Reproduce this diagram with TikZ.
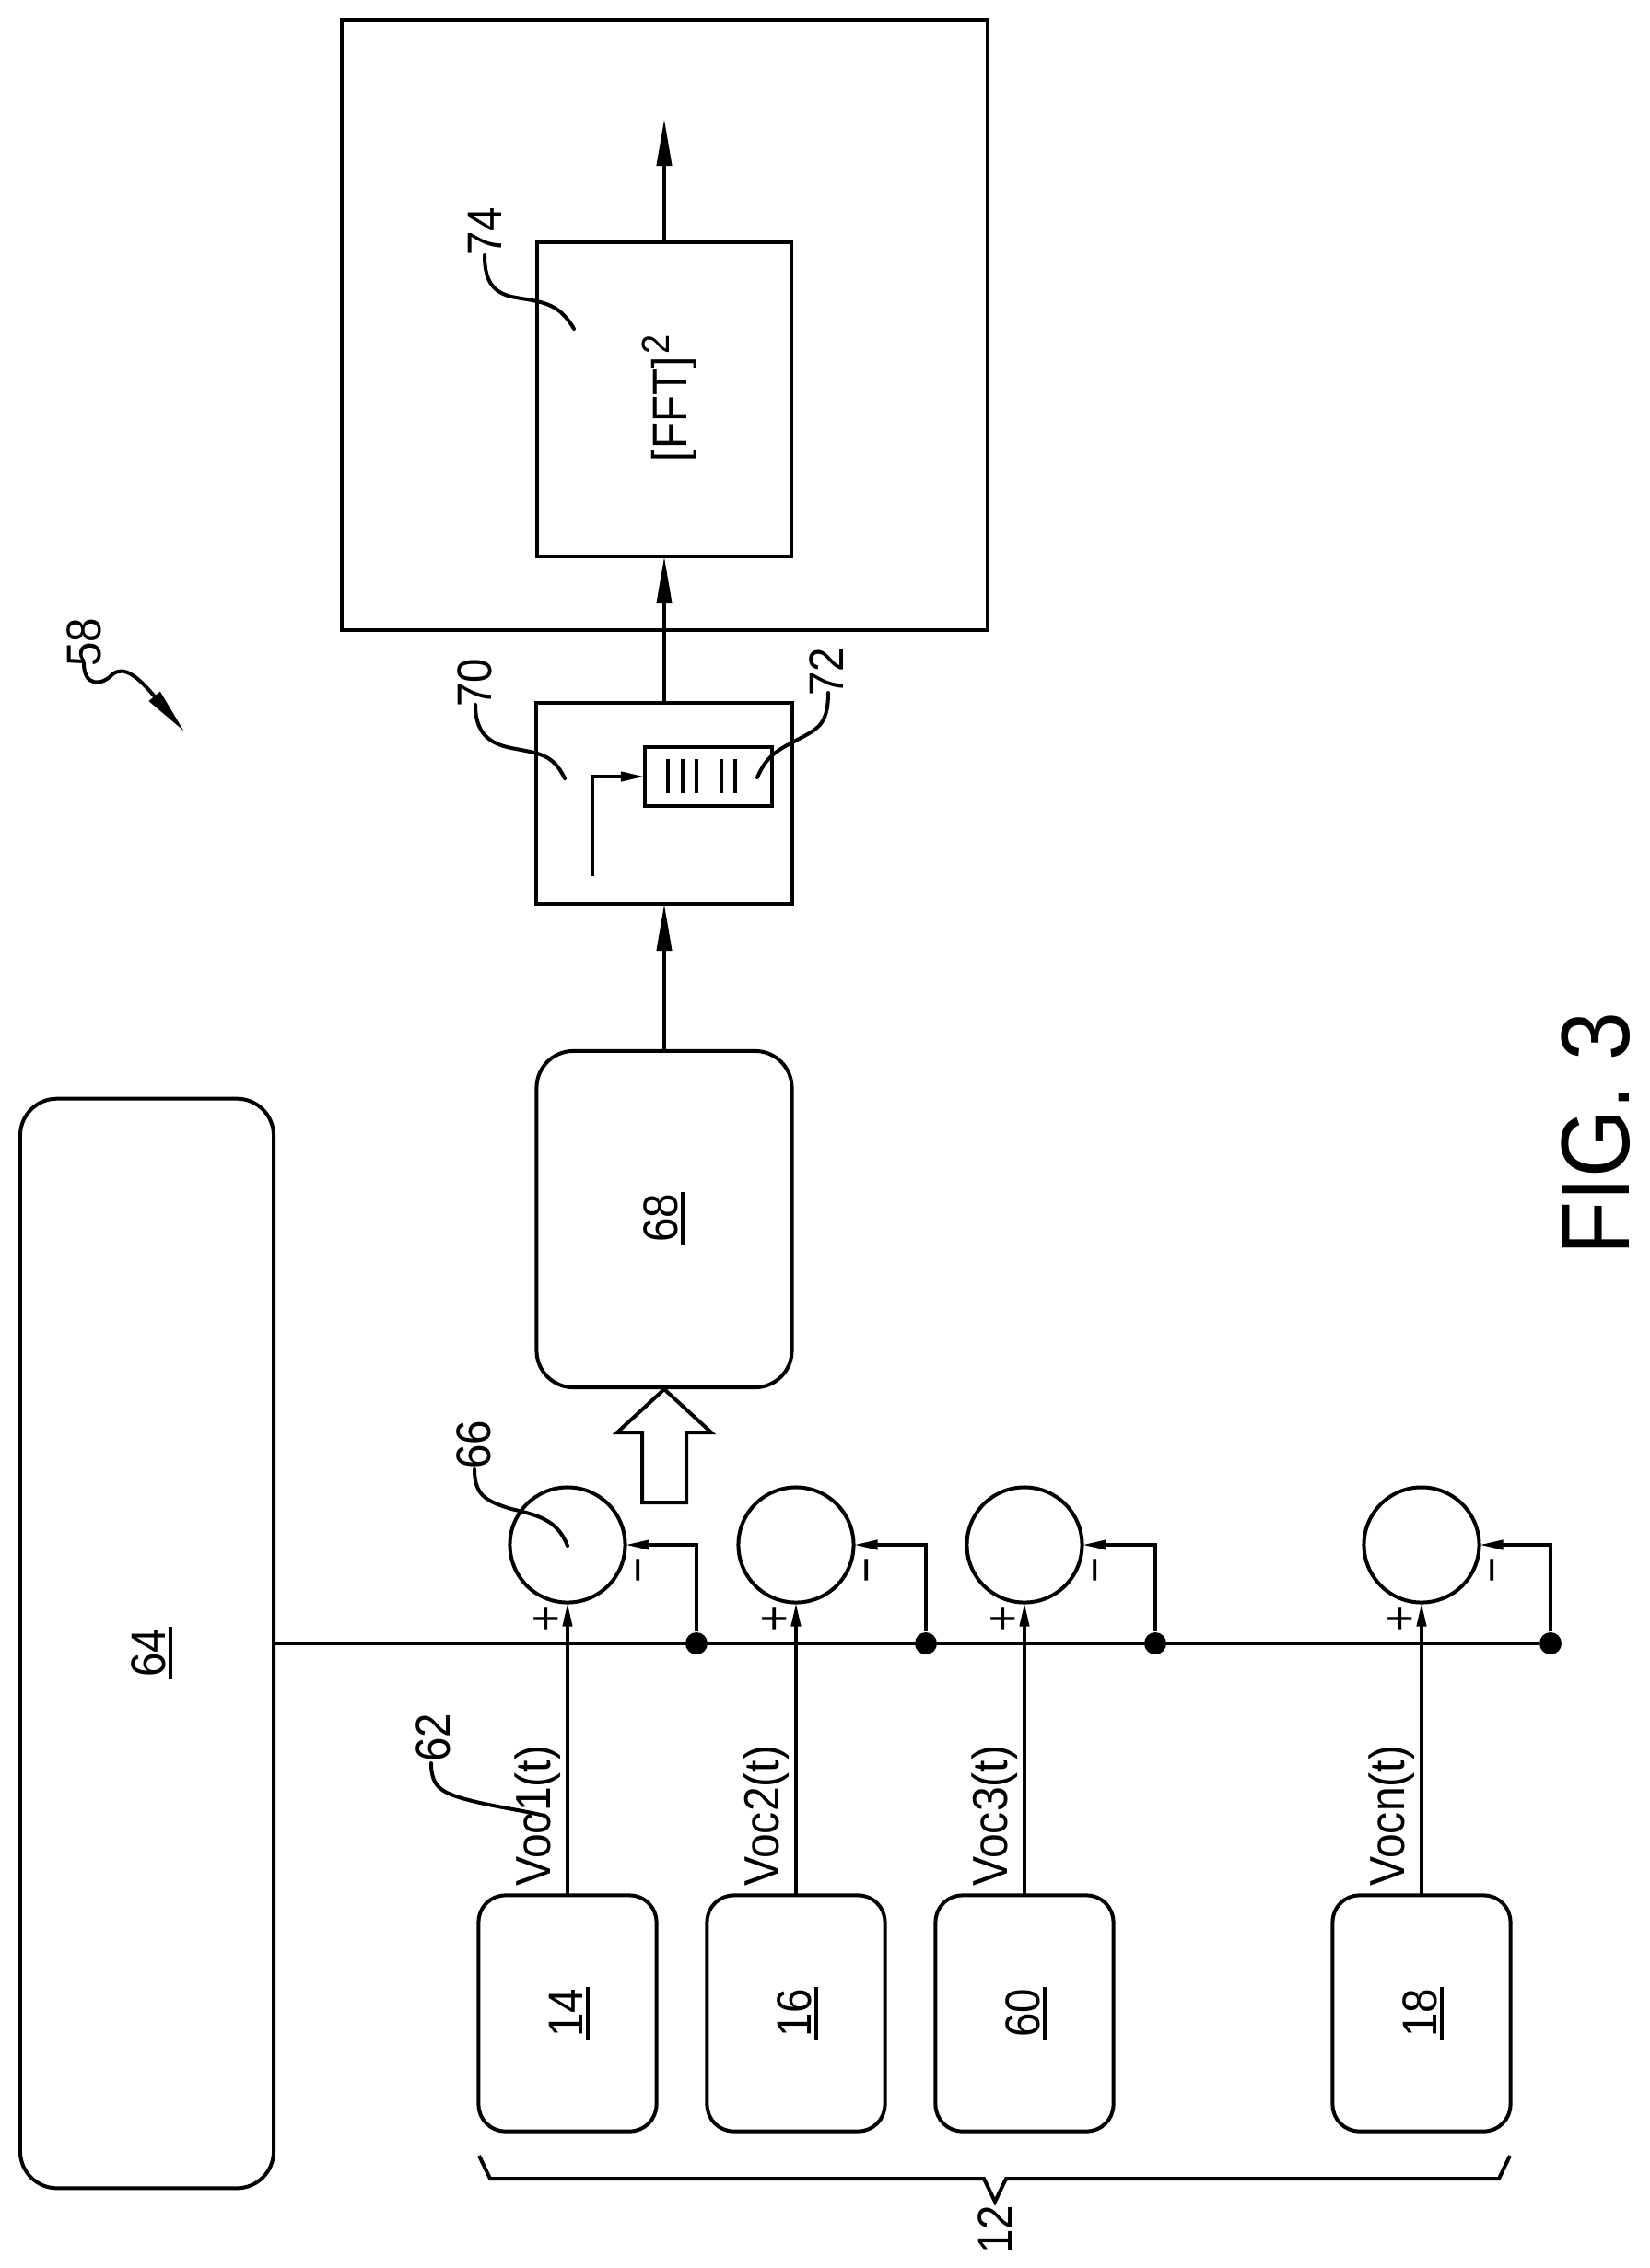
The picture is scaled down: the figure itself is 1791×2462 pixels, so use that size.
\documentclass[tikz,border=0pt]{standalone}
\usepackage{fontspec}
\setmainfont[FakeStretch=0.9]{Liberation Sans}
\usetikzlibrary{arrows.meta}
\newcommand{\ulabel}[1]{\vtop{\hbox{\kern0.6pt#1\kern0.6pt}\kern0.85pt\hrule height1.1pt}}

\begin{document}
\begin{tikzpicture}[x=0.01cm,y=-0.01cm]
        \tikzset{block/.style = {shape=rectangle,draw,line width=0.04cm,inner sep=0,outer sep=0}}
        \tikzset{roundblock/.style = {block,rounded corners=0.4cm}}
        \tikzset{source/.style = {block,rounded corners=0.29cm,minimum width=1.93cm,minimum height=2.56cm}}
        \tikzset{sumnode/.style = {shape=circle,draw,line width=0.04cm,minimum size=1.25cm,inner sep=0,outer sep=0}}
        \tikzset{junction/.style = {shape=circle,fill=black,minimum size=0.24cm,inner sep=0}}
        \tikzset{edge/.style = {-,line width=0.04cm}}
        \tikzset{bigarrow/.style = {edge,-{Triangle[length=0.51cm,width=0.16cm]}}}
        \tikzset{smallarrow/.style = {edge,-{Triangle[length=0.26cm,width=0.1cm]}}}
        \tikzset{leader/.style = {edge,line cap=round}}
        \tikzset{tag/.style = {rotate=90,inner sep=0,font=\fontsize{15}{17}\selectfont}}
        \tikzset{signal/.style = {rotate=90,inner sep=0,font=\fontsize{15.2}{18}\selectfont}}
        \useasboundingbox (0,0) rectangle (1791,2462);

        \node[block,minimum width=7.01cm,minimum height=6.62cm] (outer) at (721.5,353) {};
        \node[block,minimum width=2.76cm,minimum height=3.41cm] (fft) at (721,433.5) {};
        \node[block,minimum width=2.77cm,minimum height=2.18cm] (buffer) at (721,872) {};
        \node[block,minimum width=1.38cm,minimum height=0.64cm] (queue) at (769,843) {};
        \node[roundblock,minimum width=2.77cm,minimum height=3.65cm] (adder) at (721,1323.5) {};
        \node[roundblock,minimum width=2.75cm,minimum height=11.82cm] (reference) at (159.5,1784) {};

        \node[source] (cell1) at (616,2185.5) {};
        \node[source] (cell2) at (864,2185.5) {};
        \node[source] (cell3) at (1112,2185.5) {};
        \node[source] (celln) at (1543,2185.5) {};

        \node[sumnode] (sum1) at (616,1677) {};
        \node[sumnode] (sum2) at (864,1677) {};
        \node[sumnode] (sum3) at (1112,1677) {};
        \node[sumnode] (sumn) at (1543,1677) {};

        \node[junction] (dot1) at (756,1784) {};
        \node[junction] (dot2) at (1005,1784) {};
        \node[junction] (dot3) at (1254,1784) {};
        \node[junction] (dotn) at (1683,1784) {};

        % labels
        \node[tag] (t14) at (618,2185) {\ulabel{14}};
        \node[tag] (t16) at (866,2185) {\ulabel{16}};
        \node[tag] (t60) at (1114,2185) {\ulabel{60}};
        \node[tag] (t18) at (1545,2185) {\ulabel{18}};
        \node[tag] (t64) at (165,1794) {\ulabel{64}};
        \node[tag] (t68) at (721,1322) {\ulabel{68}};
        \node[tag] (t58) at (91,697) {58};
        \node[tag] (t62) at (470,1886) {62};
        \node[tag] (t66) at (514,1568) {66};
        \node[tag] (t70) at (515,741) {70};
        \node[tag] (t72) at (897,729) {72};
        \node[tag] (t74) at (526,251) {74};
        \node[tag] (t12) at (1080,2420) {12};
        \node[tag] (fftlabel) at (726.5,432) {[FFT]\kern1pt\raisebox{5.4pt}{\fontsize{12}{14}\selectfont 2}};
        \node[signal] (voc1) at (584,1971) {Voc1(t)};
        \node[signal] (voc2) at (832,1971) {Voc2(t)};
        \node[signal] (voc3) at (1080,1971) {Voc3(t)};
        \node[signal] (vocn) at (1511,1971) {Vocn(t)};
        \node[signal] (plus1) at (595,1757) {+};
        \node[signal] (plus2) at (843,1757) {+};
        \node[signal] (plus3) at (1091,1757) {+};
        \node[signal] (plusn) at (1522,1757) {+};
        \node[signal] (minus1) at (701,1704) {−};
        \node[signal] (minus2) at (949,1704) {−};
        \node[signal] (minus3) at (1197,1704) {−};
        \node[signal] (minusn) at (1628,1704) {−};
        \node[rotate=90,inner sep=0,font=\fontsize{30}{34}\selectfont] (figlabel) at (1732,1231) {FIG. 3};

        % signal path
        \coordinate (out) at (721,129);
        \draw[bigarrow] (fft.north) to (out);
        \draw[bigarrow] (buffer.north) to (fft.south);
        \draw[bigarrow] (adder.north) to (buffer.south);
        \coordinate (qstart) at (643,951);
        \draw[smallarrow] (qstart) |- (queue.west);

        % bus
        \draw[edge] (reference.east |- dot1) to (dotn);
        \draw[smallarrow] (cell1.north) to (sum1.south);
        \draw[smallarrow] (cell2.north) to (sum2.south);
        \draw[smallarrow] (cell3.north) to (sum3.south);
        \draw[smallarrow] (celln.north) to (sumn.south);
        \draw[smallarrow] (dot1) |- (sum1.east);
        \draw[smallarrow] (dot2) |- (sum2.east);
        \draw[smallarrow] (dot3) |- (sum3.east);
        \draw[smallarrow] (dotn) |- (sumn.east);

        % bars in the queue
        \foreach \x in {725,741,756,783,798}
          \draw[edge] (\x,824) -- (\x,861);

        % hollow arrow
        \draw[edge] (697,1631) -- (697,1555) -- (670,1555) -- (721,1508) -- (772,1555) -- (745,1555) -- (745,1631) -- cycle;

        % brace
        \draw[edge] (520,2340) -- (532,2365) -- (1068,2365) -- (1080,2390) -- (1092,2365) -- (1627,2365) -- (1639,2340);

        % leader lines
        \draw[leader] (516,765) .. controls (516,795) and (530,807) .. (555,812) .. controls (585,818) and (600,818) .. (613,845);
        \draw[leader] (899,752) .. controls (899,790) and (885,792) .. (860,806) .. controls (840,816) and (830,825) .. (822,844);
        \draw[leader] (526,277) .. controls (526,305) and (535,317) .. (555,322) .. controls (585,328) and (605,326) .. (623,357);
        \draw[leader] (515,1595) .. controls (515,1625) and (530,1630) .. (555,1638) .. controls (585,1645) and (605,1650) .. (616,1678);
        \draw[leader] (468,1914) .. controls (468,1940) and (480,1946) .. (505,1953) .. controls (530,1960) and (565,1965) .. (587,1970);
        \coordinate (tip58) at (200,794);
        \draw[leader,-{Triangle[length=0.5cm,width=0.15cm]}] (91,720) .. controls (91,745) and (110,745) .. (122,732) .. controls (135,722) and (150,735) .. (tip58);
\end{tikzpicture}
\end{document}
